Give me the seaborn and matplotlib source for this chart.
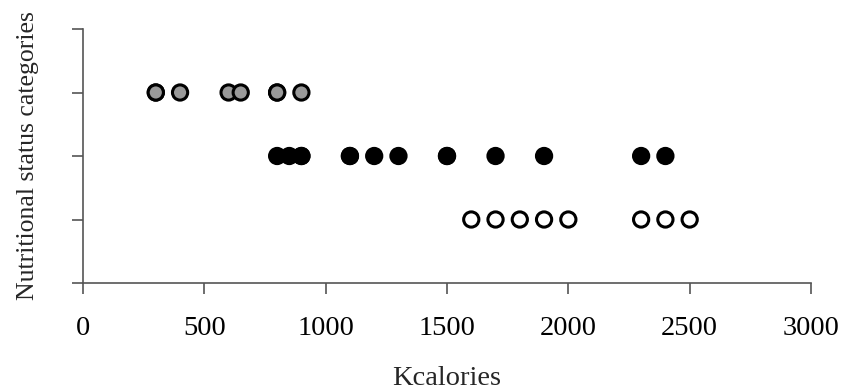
import matplotlib
matplotlib.use("Agg")
import matplotlib.pyplot as plt
import seaborn as sns
import pandas as pd

# Energy intake (kcal) per nutritional status category
kcal_group_a = [300, 300, 400, 600, 650, 800, 800, 900]
kcal_group_b = [800, 850, 900, 900, 1100, 1100, 1200, 1300, 1500, 1500, 1700, 1900, 2300, 2400]
kcal_group_c = [1600, 1700, 1800, 1900, 2000, 2300, 2400, 2500]
category_levels = [3, 2, 1]
group_names = ["A", "B", "C"]
face_colors = ["#999999", "#000000", "#ffffff"]

x_ticks = [0, 500, 1000, 1500, 2000, 2500, 3000]
y_ticks = [0, 1, 2, 3, 4]

rows = []
for name, level, vals in zip(group_names, category_levels,
                             [kcal_group_a, kcal_group_b, kcal_group_c]):
    for v in vals:
        rows.append({"kcal": v, "level": level, "group": name})
df = pd.DataFrame(rows)

sns.set_theme(style="white")
plt.rcParams["font.family"] = ["Liberation Serif", "DejaVu Serif"]

fig = plt.figure(figsize=(8.43, 3.92), dpi=100)
ax = fig.add_axes([83 / 843, 1 - 283 / 392, (811 - 83) / 843, (283 - 29) / 392])

sns.scatterplot(data=df, x="kcal", y="level", hue="group",
                palette=dict(zip(group_names, face_colors)),
                edgecolor="black", linewidth=2.2, s=120, legend=False,
                ax=ax, clip_on=False, zorder=3)

ax.set_xlim(0, 3000)
ax.set_ylim(0, 4)
ax.set_xticks(x_ticks)
ax.set_yticks(y_ticks)
ax.set_yticklabels([])
ax.tick_params(axis="both", direction="out", length=8, width=1.2,
               color="#555555", labelsize=20.5, pad=15.5,
               bottom=True, left=True)
ax.tick_params(axis="x", labelcolor="black")

for side in ["top", "right"]:
    ax.spines[side].set_visible(False)
for side in ["left", "bottom"]:
    ax.spines[side].set_color("#555555")
    ax.spines[side].set_linewidth(1.2)

ax.set_xlabel("Kcalories", fontsize=20.5, labelpad=18)
ax.set_ylabel("Nutritional status categories", fontsize=18.5, labelpad=8.5)

fig.savefig("out.png", dpi=100)
